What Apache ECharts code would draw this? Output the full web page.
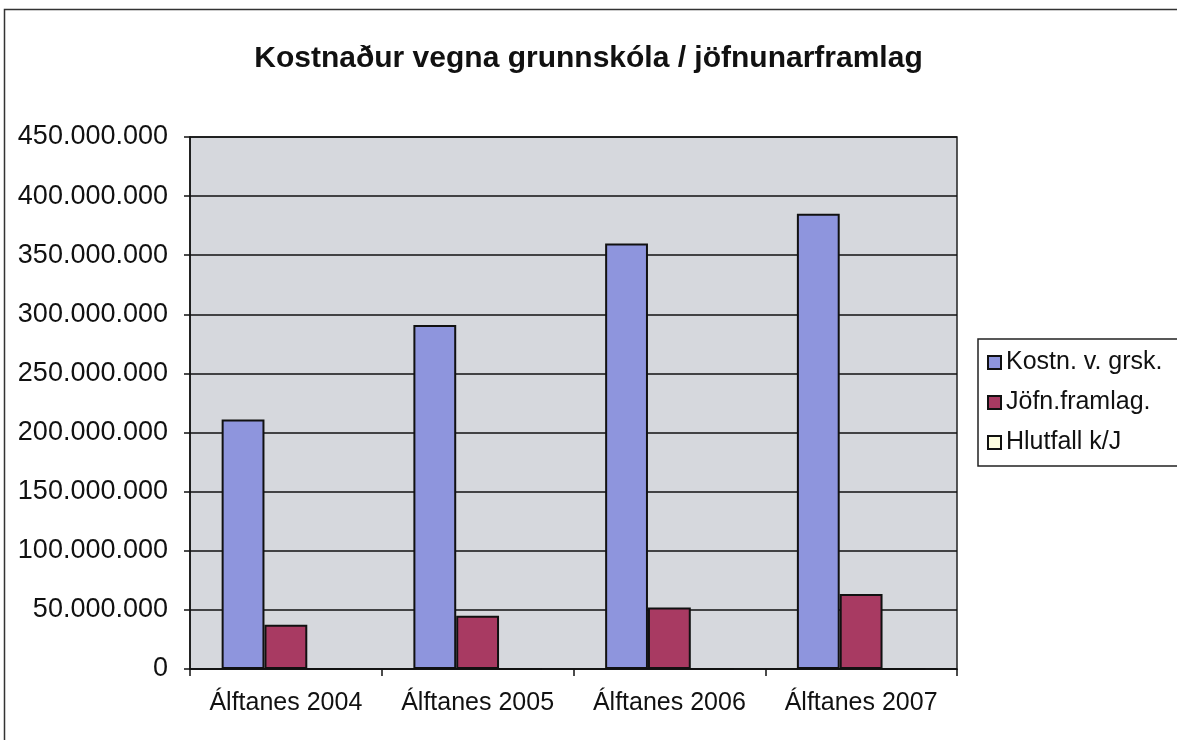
<!DOCTYPE html>
<html><head><meta charset="utf-8">
<script src="https://cdn.jsdelivr.net/npm/echarts@6/dist/echarts.min.js"></script>
<style>html,body{margin:0;padding:0;background:#fff}#c{width:1177px;height:740px}</style>
</head><body><div id="c"></div>
<script>
const categories = ['Álftanes 2004', 'Álftanes 2005', 'Álftanes 2006', 'Álftanes 2007'];
const kostnadur = [211000000, 291000000, 360000000, 385000000];
const jofnun = [37500000, 45000000, 52000000, 63500000];
const hlutfall = [5.6, 6.5, 6.9, 6.1];
const seriesNames = ['Kostn. v. grsk.', 'Jöfn.framlag.', 'Hlutfall k/J'];
const yTicks = { min: 0, max: 450000000, interval: 50000000 };

const chart = echarts.init(document.getElementById('c'));
const font = 'Liberation Sans, Arial, sans-serif';
const fmt = v => String(Math.round(v)).replace(/\B(?=(\d{3})+(?!\d))/g, '.');
const bar = (name, data, color) => ({
  name, type: 'bar', data, barGap: 0, barCategoryGap: '33%',
  itemStyle: { color, borderColor: '#111', borderWidth: 2 }
});
chart.setOption({
  animation: false,
  title: { text: 'Kostnaður vegna grunnskóla / jöfnunarframlag', left: 'center', top: 39,
    textStyle: { fontFamily: font, fontSize: 30, fontWeight: 'bold', color: '#111' } },
  graphic: [{ type: 'rect', shape: { x: 4.5, y: 9.5, width: 1200, height: 800 },
    style: { fill: 'none', stroke: '#333', lineWidth: 1.5 }, z: -10 }],
  legend: { orient: 'vertical', left: 978, top: 339, padding: [11, 40, 11, 9], itemGap: 15,
    itemWidth: 13, itemHeight: 13, borderColor: '#222', borderWidth: 1.5,
    icon: 'rect', data: seriesNames,
    textStyle: { fontFamily: font, fontSize: 25, color: '#111', padding: [0, 0, 0, 0] } },
  grid: { left: 190, right: 220, top: 137, bottom: 71, show: true,
    backgroundColor: '#d6d8dd', borderColor: '#222', borderWidth: 1.5 },
  xAxis: { type: 'category', data: categories,
    axisLine: { lineStyle: { color: '#111', width: 1.5 } },
    axisTick: { show: true, interval: 0, length: 7, lineStyle: { color: '#111', width: 1.5 } },
    axisLabel: { interval: 0, fontFamily: font, fontSize: 25, color: '#111', margin: 22 } },
  yAxis: { type: 'value', min: yTicks.min, max: yTicks.max, interval: yTicks.interval,
    axisLine: { show: true, lineStyle: { color: '#111', width: 1.5 } },
    axisTick: { show: true, length: 6, lineStyle: { color: '#111', width: 1.5 } },
    splitLine: { lineStyle: { color: '#111', width: 1.5 } },
    axisLabel: { fontFamily: font, fontSize: 27, color: '#111', margin: 22, formatter: fmt } },
  series: [
    bar(seriesNames[0], kostnadur, '#8e95dd'),
    bar(seriesNames[1], jofnun, '#a83a62'),
    bar(seriesNames[2], hlutfall, '#fdfde0')
  ]
});
</script></body></html>
